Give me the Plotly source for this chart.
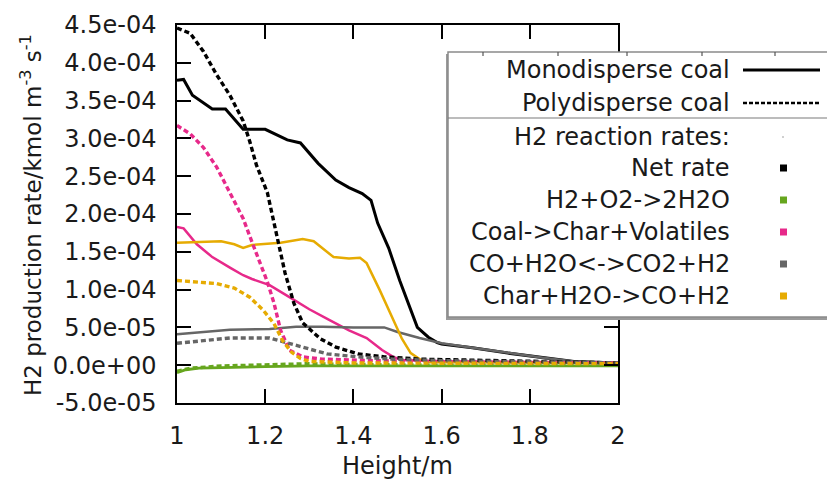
import plotly.graph_objects as go

FONT = "DejaVu Sans"

# ---- H2 reaction rates along the reactor height (kmol m^-3 s^-1) ----
# Monodisperse coal
mono_net_h = [1.00, 1.015, 1.035, 1.08, 1.11, 1.15, 1.20, 1.25, 1.28, 1.32, 1.36, 1.39, 1.42, 1.44,
              1.455, 1.48, 1.505, 1.53, 1.545, 1.57, 1.59, 1.60, 1.67, 1.75, 1.83, 1.90, 2.00]
mono_net_r = [3.77e-4, 3.78e-4, 3.57e-4, 3.39e-4, 3.39e-4, 3.12e-4, 3.12e-4, 2.98e-4, 2.94e-4, 2.67e-4,
              2.45e-4, 2.35e-4, 2.27e-4, 2.18e-4, 1.88e-4, 1.55e-4, 1.12e-4, 7.3e-5, 5.0e-5, 3.7e-5,
              3.0e-5, 2.8e-5, 2.3e-5, 1.6e-5, 1.0e-5, 5e-6, 3e-6]

mono_h2o2_h = [1.00, 1.02, 1.05, 1.10, 1.20, 1.30, 1.50, 1.70, 2.00]
mono_h2o2_r = [-1.0e-5, -6e-6, -4e-6, -3e-6, -2e-6, -1e-6, -1e-6, -1e-6, -1e-6]

mono_coal_h = [1.00, 1.015, 1.045, 1.08, 1.12, 1.15, 1.17, 1.21, 1.255, 1.30, 1.345, 1.39, 1.43,
               1.465, 1.49, 1.51, 1.60, 1.80, 2.00]
mono_coal_r = [1.83e-4, 1.81e-4, 1.60e-4, 1.43e-4, 1.29e-4, 1.19e-4, 1.14e-4, 1.06e-4, 9.0e-5, 7.4e-5,
               6.0e-5, 4.6e-5, 3.6e-5, 2.0e-5, 1.1e-5, 7e-6, 5e-6, 4e-6, 3e-6]

mono_co_h = [1.00, 1.06, 1.12, 1.21, 1.27, 1.33, 1.40, 1.47, 1.50, 1.55, 1.60, 1.67, 1.75, 1.83, 1.90, 2.00]
mono_co_r = [4.1e-5, 4.4e-5, 4.7e-5, 4.8e-5, 5.1e-5, 5.1e-5, 5.0e-5, 5.0e-5, 4.4e-5, 3.6e-5, 2.9e-5,
             2.3e-5, 1.6e-5, 1.0e-5, 5e-6, 3e-6]

mono_char_h = [1.00, 1.05, 1.10, 1.13, 1.15, 1.17, 1.235, 1.285, 1.31, 1.355, 1.39, 1.415, 1.43,
               1.46, 1.49, 1.51, 1.53, 1.55, 1.57, 1.80, 2.00]
mono_char_r = [1.62e-4, 1.63e-4, 1.64e-4, 1.60e-4, 1.55e-4, 1.59e-4, 1.62e-4, 1.67e-4, 1.64e-4, 1.43e-4,
               1.41e-4, 1.42e-4, 1.35e-4, 9.9e-5, 6.0e-5, 3.5e-5, 1.6e-5, 8e-6, 4e-6, 3e-6, 3e-6]

# Polydisperse coal
poly_net_h = [1.00, 1.03, 1.06, 1.09, 1.12, 1.15, 1.165, 1.18, 1.205, 1.227, 1.245, 1.265, 1.285,
              1.325, 1.36, 1.41, 1.47, 1.55, 1.70, 1.85, 2.00]
poly_net_r = [4.46e-4, 4.39e-4, 4.15e-4, 3.84e-4, 3.57e-4, 3.23e-4, 2.96e-4, 2.65e-4, 2.28e-4, 1.69e-4,
              1.22e-4, 8.2e-5, 5.6e-5, 3.5e-5, 2.4e-5, 1.5e-5, 1.1e-5, 8e-6, 6e-6, 4e-6, 3e-6]

poly_h2o2_h = [1.00, 1.03, 1.10, 1.20, 1.30, 1.40, 1.60, 2.00]
poly_h2o2_r = [-8e-6, -4e-6, -1e-6, 1e-6, 2e-6, 1e-6, 0.0, 0.0]

poly_coal_h = [1.00, 1.03, 1.06, 1.09, 1.12, 1.15, 1.17, 1.19, 1.205, 1.22, 1.235, 1.255, 1.285,
               1.33, 1.45, 1.70, 2.00]
poly_coal_r = [3.17e-4, 3.06e-4, 2.88e-4, 2.62e-4, 2.28e-4, 1.94e-4, 1.63e-4, 1.32e-4, 1.10e-4, 8.2e-5,
               4.6e-5, 2.0e-5, 1.1e-5, 8e-6, 6e-6, 4e-6, 3e-6]

poly_co_h = [1.00, 1.05, 1.12, 1.21, 1.24, 1.27, 1.30, 1.34, 1.41, 1.49, 1.60, 1.80, 2.00]
poly_co_r = [2.9e-5, 3.2e-5, 3.6e-5, 3.6e-5, 3.1e-5, 2.7e-5, 2.1e-5, 1.5e-5, 1.1e-5, 8e-6, 6e-6, 4e-6, 3e-6]

poly_char_h = [1.00, 1.05, 1.09, 1.13, 1.165, 1.195, 1.22, 1.24, 1.26, 1.28, 1.30, 1.40, 2.00]
poly_char_r = [1.12e-4, 1.10e-4, 1.08e-4, 1.02e-4, 9.0e-5, 7.3e-5, 5.5e-5, 3.2e-5, 1.7e-5, 9e-6, 5e-6,
               3e-6, 2e-6]

reaction_names = ["Net rate", "H2+O2->2H2O", "Coal->Char+Volatiles", "CO+H2O<->CO2+H2", "Char+H2O->CO+H2"]
reaction_colors = ["#000000", "#66a61e", "#e7298a", "#666666", "#e6ab02"]
reaction_widths = [3.0, 2.8, 2.5, 2.5, 2.5]

mono_series = [(mono_net_h, mono_net_r), (mono_h2o2_h, mono_h2o2_r), (mono_coal_h, mono_coal_r),
               (mono_co_h, mono_co_r), (mono_char_h, mono_char_r)]
poly_series = [(poly_net_h, poly_net_r), (poly_h2o2_h, poly_h2o2_r), (poly_coal_h, poly_coal_r),
               (poly_co_h, poly_co_r), (poly_char_h, poly_char_r)]

xtick_vals = [1.0, 1.2, 1.4, 1.6, 1.8, 2.0]
xtick_text = ["1", "1.2", "1.4", "1.6", "1.8", "2"]
ytick_vals = [-5e-5, 0.0, 5e-5, 1e-4, 1.5e-4, 2e-4, 2.5e-4, 3e-4, 3.5e-4, 4e-4, 4.5e-4]
ytick_text = ["-5.0e-05", "0.0e+00", "5.0e-05", "1.0e-04", "1.5e-04", "2.0e-04",
              "2.5e-04", "3.0e-04", "3.5e-04", "4.0e-04", "4.5e-04"]

fig = go.Figure()

for (h, r), name, col, w in zip(mono_series, reaction_names, reaction_colors, reaction_widths):
    fig.add_trace(go.Scatter(x=h, y=r, mode="lines", name=name + " (mono)",
                             line=dict(color=col, width=w), showlegend=False))
for (h, r), name, col in zip(poly_series, reaction_names, reaction_colors):
    fig.add_trace(go.Scatter(x=h, y=r, mode="lines", name=name + " (poly)",
                             line=dict(color=col, width=3.4, dash="5px,3px"), showlegend=False))

# ---- plot frame geometry (pixels) ----
W, H = 827, 480
L, R, T, B = 177, 618, 25, 403


def px(x):
    return (x - L) / (R - L)


def py(y):
    return (B - y) / (B - T)


shapes = []
annotations = []

# key box with drop shadow
kx0, kx1, ky0, ky1 = 448, 830, 52, 317
shapes.append(dict(type="rect", xref="paper", yref="paper", layer="above",
                   x0=px(kx0 - 2), x1=px(kx1), y0=py(ky1 + 3), y1=py(ky0 + 2),
                   line=dict(width=0), fillcolor="#9a9a9a"))
shapes.append(dict(type="rect", xref="paper", yref="paper", layer="above",
                   x0=px(kx0), x1=px(kx1), y0=py(ky1), y1=py(ky0),
                   line=dict(color="#8a8a8a", width=1.5), fillcolor="white"))
shapes.append(dict(type="line", xref="paper", yref="paper", layer="above",
                   x0=px(kx0), x1=px(kx1), y0=py(118), y1=py(118),
                   line=dict(color="#7a7a7a", width=1.2)))
for tx in [483, 558, 627, 702, 775]:
    shapes.append(dict(type="line", xref="paper", yref="paper", layer="above",
                       x0=px(tx), x1=px(tx), y0=py(ky0), y1=py(ky0 + 4),
                       line=dict(color="#555555", width=1.2)))

text_right = px(732)
key_font = dict(family=FONT, size=24, color="#1a1a1a")
samp_x0, samp_x1, samp_c = px(743), px(820), px(783)

key_rows = [("Monodisperse coal", 70), ("Polydisperse coal", 103)]
for label, yy in key_rows:
    annotations.append(dict(text=label, xref="paper", yref="paper", x=text_right, y=py(yy),
                            xanchor="right", yanchor="middle", showarrow=False, font=key_font))
shapes.append(dict(type="line", xref="paper", yref="paper", layer="above",
                   x0=samp_x0, x1=samp_x1, y0=py(70), y1=py(70),
                   line=dict(color="black", width=2.8)))
shapes.append(dict(type="line", xref="paper", yref="paper", layer="above",
                   x0=samp_x0, x1=samp_x1, y0=py(103), y1=py(103),
                   line=dict(color="black", width=2.6, dash="4px,2px")))

annotations.append(dict(text="H2 reaction rates:", xref="paper", yref="paper", x=text_right, y=py(137),
                        xanchor="right", yanchor="middle", showarrow=False, font=key_font))
shapes.append(dict(type="rect", xref="paper", yref="paper", layer="above",
                   x0=px(782.5), x1=px(783.5), y0=py(137.5), y1=py(136.5),
                   line=dict(width=0), fillcolor="#444444"))

for i, (name, col) in enumerate(zip(reaction_names, reaction_colors)):
    yy = 168 + i * 32
    annotations.append(dict(text=name, xref="paper", yref="paper", x=text_right, y=py(yy),
                            xanchor="right", yanchor="middle", showarrow=False, font=key_font))
    shapes.append(dict(type="rect", xref="paper", yref="paper", layer="above",
                       x0=px(780), x1=px(787), y0=py(yy + 3.5), y1=py(yy - 3.5),
                       line=dict(width=0), fillcolor=col))

# axis titles
annotations.append(dict(text="H2 production rate/kmol m<sup>-3</sup> s<sup>-1</sup>",
                        xref="paper", yref="paper", x=px(31), y=py(215), textangle=-90,
                        xanchor="center", yanchor="middle", showarrow=False,
                        font=dict(family=FONT, size=23, color="#1a1a1a")))
annotations.append(dict(text="Height/m", xref="paper", yref="paper", x=px(397), y=py(466),
                        xanchor="center", yanchor="middle", showarrow=False,
                        font=dict(family=FONT, size=24, color="#1a1a1a")))

axis_common = dict(showgrid=False, zeroline=False, showline=True, linecolor="black", linewidth=1.5,
                   mirror="ticks", ticks="inside", ticklen=14, tickwidth=1.5, tickcolor="black",
                   tickfont=dict(family=FONT, size=24, color="#1a1a1a"))

fig.update_xaxes(range=[1, 2], tickvals=xtick_vals, ticktext=xtick_text, ticklabelstandoff=10,
                 **axis_common)
fig.update_yaxes(range=[-5e-5, 4.5e-4], tickvals=ytick_vals, ticktext=ytick_text,
                 ticklabelstandoff=14, **axis_common)

fig.update_layout(width=W, height=H, margin=dict(l=L, r=W - R, t=T, b=H - B),
                  plot_bgcolor="white", paper_bgcolor="white", showlegend=False,
                  shapes=shapes, annotations=annotations)

fig.write_html("out.html")
